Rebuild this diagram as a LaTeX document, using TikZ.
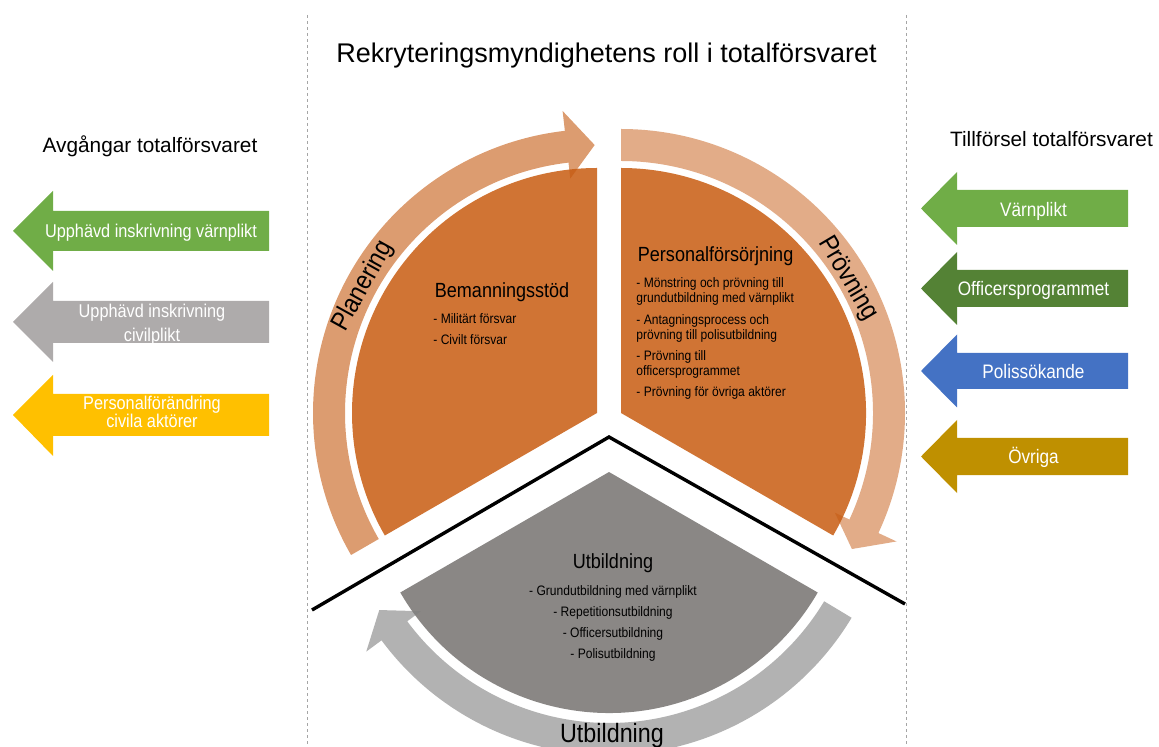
\documentclass[tikz,border=0pt]{standalone}
\usepackage{fontspec}
\setmainfont{Liberation Sans}
\newfontfamily\narrowfont{Liberation Sans}[FakeStretch=0.88]
\usetikzlibrary{calc}

\definecolor{sectororange}{HTML}{D07434}
\definecolor{sectorgray}{HTML}{8A8785}
\definecolor{cycleorange}{HTML}{C55A11}
\definecolor{cyclegray}{HTML}{7F7F7F}
\definecolor{exitgreen}{HTML}{70AD47}
\definecolor{exitgray}{HTML}{AEABAB}
\definecolor{exityellow}{HTML}{FFC000}
\definecolor{indarkgreen}{HTML}{548235}
\definecolor{inblue}{HTML}{4472C4}
\definecolor{ingold}{HTML}{BF9000}

\tikzset{
  sepline/.style={color={rgb, 255:red, 165; green, 165; blue, 165}, line width=0.5pt, dash pattern={on 1.5pt off 1.5pt}},
  titletext/.style={font=\fontsize{13.5}{16}\selectfont},
  headtext/.style={font=\fontsize{10.4}{12.5}\selectfont},
  sectortitle/.style={font=\narrowfont\fontsize{10.25}{12}\selectfont},
  listtext/.style={font=\narrowfont\fontsize{6.85}{7.5}\selectfont, inner sep=0pt},
  arclabel/.style={font=\narrowfont\fontsize{13.25}{16}\selectfont},
  exitlabel/.style={font=\narrowfont\fontsize{9.25}{11}\selectfont, text=white, inner sep=0pt},
  inlabel/.style={font=\narrowfont\fontsize{9.75}{11}\selectfont, text=white},
}

\begin{document}
\begin{tikzpicture}[x=0.5pt,y=0.5pt,yscale=-1,xscale=1]
    \useasboundingbox (0,0) rectangle (1159,747);

    %Straight Lines [separators]
    \draw [sepline] (307,15) -- (307,747) ;
    \draw [sepline] (906,15) -- (906,747) ;

    %Shape: Sector [Bemanningsstöd]
    \fill [sectororange] (597,413) -- ++(-90:245) arc[start angle=-90, end angle=-210, radius=245] -- cycle ;
    %Shape: Sector [Personalförsörjning]
    \fill [sectororange] (621,413) -- ++(30:245) arc[start angle=30, end angle=-90, radius=245] -- cycle ;
    %Shape: Sector [Utbildning]
    \fill [sectorgray] (609,472) -- ++(150:241) arc[start angle=150, end angle=30, radius=241] -- cycle ;

    %Shape: Circular Arrow [Planering]
    \fill [cycleorange, fill opacity=0.6, shift={(597,413)}] (-210:284) arc[start angle=-210, end angle=-96.5, radius=284] -- (-96.5:304) -- (-90.5:268) -- (-96.5:236) -- (-96.5:252) arc[start angle=-96.5, end angle=-210, radius=252] -- cycle ;
    %Shape: Circular Arrow [Prövning]
    \fill [cycleorange, fill opacity=0.5, shift={(621,413)}] (-90:284) arc[start angle=-90, end angle=25, radius=284] -- (25:304) -- (30.5:268) -- (25:236) -- (25:252) arc[start angle=25, end angle=-90, radius=252] -- cycle ;
    %Shape: Circular Arrow [Utbildning]
    \fill [cyclegray, fill opacity=0.6, shift={(609,472)}] (31:283) arc[start angle=31, end angle=143.5, radius=283] -- (143.5:302) -- (149:268) -- (143.5:234) -- (143.5:251) arc[start angle=143.5, end angle=31, radius=251] -- cycle ;

    %Straight Lines [roof]
    \draw [line width=1.7pt] (312,610) -- (609,437) -- (905,604) ;

    %Shape: Left Arrow [exits]
    \fill [exitgreen] (13,231) -- (53,191) -- (53,211) -- (269,211) -- (269,251) -- (53,251) -- (53,271) -- cycle ;
    \fill [exitgray] (13,322) -- (53,282) -- (53,301) -- (269,301) -- (269,343) -- (53,343) -- (53,362) -- cycle ;
    \fill [exityellow] (13,415) -- (53,375) -- (53,394) -- (269,394) -- (269,436) -- (53,436) -- (53,456) -- cycle ;

    %Shape: Left Arrow [inflows]
    \fill [exitgreen] (921,208.5) -- (957,172) -- (957,190) -- (1128,190) -- (1128,227) -- (957,227) -- (957,245) -- cycle ;
    \fill [indarkgreen] (921,288.5) -- (957,252) -- (957,270) -- (1128,270) -- (1128,307) -- (957,307) -- (957,325) -- cycle ;
    \fill [inblue] (921,371) -- (957,334.5) -- (957,353) -- (1128,353) -- (1128,389) -- (957,389) -- (957,407.5) -- cycle ;
    \fill [ingold] (921,456.5) -- (957,420) -- (957,438) -- (1128,438) -- (1128,475) -- (957,475) -- (957,493) -- cycle ;

    % Text Node
    \draw (606.5,63) node (title) [anchor=base, inner sep=0.75pt, titletext] {Rekryteringsmyndighetens roll i totalförsvaret};
    % Text Node
    \draw (150,153) node (exithead) [anchor=base, inner sep=0.75pt, headtext] {Avgångar totalförsvaret};
    % Text Node
    \draw (1051.5,147) node (inhead) [anchor=base, inner sep=0.75pt, headtext] {Tillförsel totalförsvaret};

    % Text Node
    \draw (433,298) node (beman) [anchor=base west, inner sep=0.75pt, sectortitle] {Bemanningsstöd};
    % Text Node
    \draw (433,324) node (beman1) [anchor=base west, listtext] {- Militärt försvar};
    % Text Node
    \draw (433,345) node (beman2) [anchor=base west, listtext] {- Civilt försvar};

    % Text Node
    \draw (636,262) node (persf) [anchor=base west, inner sep=0.75pt, sectortitle] {Personalförsörjning};
    % Text Node
    \draw (636,288) node (persf1a) [anchor=base west, listtext] {- Mönstring och prövning till};
    \draw (636,303) node (persf1b) [anchor=base west, listtext] {grundutbildning med värnplikt};
    % Text Node
    \draw (636,325) node (persf2a) [anchor=base west, listtext] {- Antagningsprocess och};
    \draw (636,339.5) node (persf2b) [anchor=base west, listtext] {prövning till polisutbildning};
    % Text Node
    \draw (636,360.5) node (persf3a) [anchor=base west, listtext] {- Prövning till};
    \draw (636,375.5) node (persf3b) [anchor=base west, listtext] {officersprogrammet};
    % Text Node
    \draw (636,397) node (persf4) [anchor=base west, listtext] {- Prövning för övriga aktörer};

    % Text Node
    \draw (613,568) node (utb) [anchor=base, inner sep=0.75pt, sectortitle] {Utbildning};
    % Text Node
    \draw (613,595) node (utb1) [anchor=base, listtext] {- Grundutbildning med värnplikt};
    \draw (613,616) node (utb2) [anchor=base, listtext] {- Repetitionsutbildning};
    \draw (613,637) node (utb3) [anchor=base, listtext] {- Officersutbildning};
    \draw (613,658) node (utb4) [anchor=base, listtext] {- Polisutbildning};

    % Text Node
    \draw ($(597,413)+(-151.5:266)$) node (planering) [inner sep=0pt, arclabel, rotate=61] {Planering};
    % Text Node
    \draw ($(621,413)+(-30.6:264)$) node (provning) [inner sep=0pt, arclabel, rotate=-59.4] {Prövning};
    % Text Node
    \draw (612,742) node (utbcycle) [anchor=base, inner sep=0.75pt, arclabel] {Utbildning};

    % Text Node
    \draw (151,238) node (exit1) [anchor=base, exitlabel] {Upphävd inskrivning värnplikt};
    % Text Node
    \draw (152,318) node (exit2a) [anchor=base, exitlabel] {Upphävd inskrivning};
    \draw (152,341.5) node (exit2b) [anchor=base, exitlabel] {civilplikt};
    % Text Node
    \draw (152,410) node (exit3a) [anchor=base, exitlabel] {Personalförändring};
    \draw (152,428) node (exit3b) [anchor=base, exitlabel] {civila aktörer};

    % Text Node
    \draw (1033.5,216.5) node (in1) [anchor=base, inner sep=0.75pt, inlabel] {Värnplikt};
    % Text Node
    \draw (1033.5,296) node (in2) [anchor=base, inner sep=0.75pt, inlabel] {Officersprogrammet};
    % Text Node
    \draw (1033.5,379) node (in3) [anchor=base, inner sep=0.75pt, inlabel] {Polissökande};
    % Text Node
    \draw (1033.5,464) node (in4) [anchor=base, inner sep=0.75pt, inlabel] {Övriga};

\end{tikzpicture}
\end{document}
